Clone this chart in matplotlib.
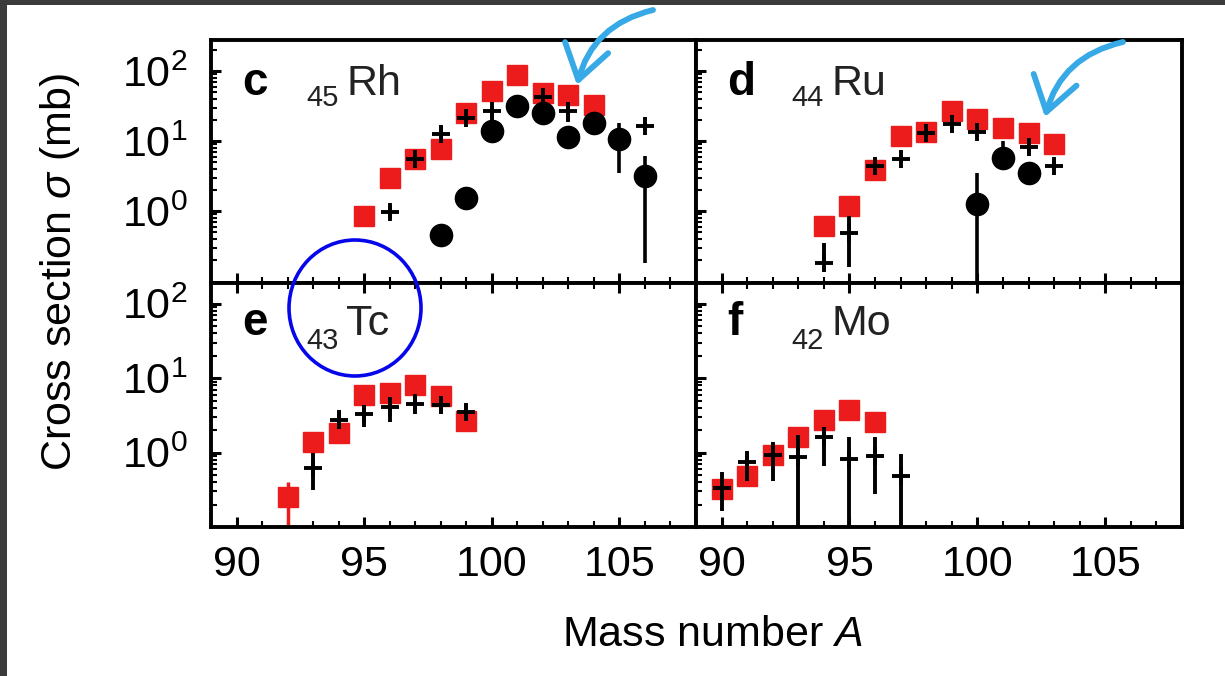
import numpy as np
import matplotlib
matplotlib.use("Agg")
import matplotlib.pyplot as plt
from matplotlib.ticker import MultipleLocator, FixedLocator, LogLocator, NullFormatter
from matplotlib.patches import Ellipse, Rectangle, FancyArrowPatch, ArrowStyle

plt.rcParams['font.family'] = ['Liberation Sans', 'DejaVu Sans']
plt.rcParams['mathtext.fontset'] = 'custom'
plt.rcParams['mathtext.rm'] = 'Liberation Sans'
plt.rcParams['mathtext.it'] = 'Liberation Sans:italic'
plt.rcParams['mathtext.bf'] = 'Liberation Sans:bold'

# ---- 45Rh (panel c) ----
rh_sq_A = [95, 96, 97, 98, 99, 100, 101, 102, 103, 104]
rh_sq = [0.85, 3.0, 5.5, 7.6, 25, 52, 87, 49, 45, 33]
rh_sq_lo = [0.7, 3.0, 5.5, 7.6, 25, 52, 87, 49, 45, 33]
rh_sq_hi = [0.85, 3.0, 5.5, 7.6, 25, 52, 87, 49, 45, 33]
rh_cr_A = [96, 97, 98, 99, 100, 102, 103, 106]
rh_cr = [0.97, 5.5, 12.5, 21.6, 27, 42, 27, 16.4]
rh_cr_lo = [0.8, 4.8, 10, 19, 19, 36, 19, 14.5]
rh_cr_hi = [1.2, 6.3, 16.4, 25, 31.6, 50, 33, 18.5]
rh_ci_A = [98, 99, 100, 101, 102, 103, 104, 105, 106]
rh_ci = [0.46, 1.55, 13.9, 32, 25, 11.6, 18.3, 10.6, 3.16]
rh_ci_lo = [0.46, 1.55, 13.9, 32, 25, 11.6, 18.3, 3.5, 0.18]
rh_ci_hi = [0.46, 1.55, 13.9, 32, 25, 11.6, 18.3, 18.3, 6.1]

# ---- 44Ru (panel d) ----
ru_sq_A = [94, 95, 96, 97, 98, 99, 100, 101, 102, 103]
ru_sq = [0.61, 1.18, 3.9, 11.8, 13.5, 27, 20.4, 15.5, 12.9, 9.0]
ru_sq_lo = ru_sq
ru_sq_hi = ru_sq
ru_cr_A = [94, 95, 96, 97, 98, 99, 100, 102, 103]
ru_cr = [0.18, 0.48, 4.4, 5.5, 12.9, 17.3, 13.5, 8.1, 4.4]
ru_cr_lo = [0.17, 0.16, 3.6, 4.8, 11.5, 15, 11.5, 6.5, 3.8]
ru_cr_hi = [0.35, 0.85, 5.2, 6.3, 14.5, 20, 16, 10.6, 5.2]
ru_ci_A = [100, 101, 102]
ru_ci = [1.25, 5.8, 3.5]
ru_ci_lo = [0.01, 5.8, 3.5]
ru_ci_hi = [3.5, 10, 3.5]

# ---- 43Tc (panel e) ----
tc_sq_A = [92, 93, 94, 95, 96, 97, 98, 99]
tc_sq = [0.25, 1.38, 1.82, 5.9, 6.3, 8.0, 5.7, 2.65]
tc_sq_lo = [0.01, 1.38, 1.82, 5.9, 6.3, 8.0, 5.7, 2.65]
tc_sq_hi = [0.4, 1.38, 1.82, 5.9, 6.3, 8.0, 5.7, 2.65]
tc_cr_A = [93, 94, 95, 96, 97, 98, 99]
tc_cr = [0.63, 2.7, 3.3, 4.1, 4.5, 4.3, 3.5]
tc_cr_lo = [0.31, 2.2, 2.2, 2.6, 3.3, 3.3, 2.85]
tc_cr_hi = [1.0, 3.7, 4.3, 5.6, 6.2, 5.0, 4.5]

# ---- 42Mo (panel f) ----
mo_sq_A = [90, 91, 92, 93, 94, 95, 96]
mo_sq = [0.32, 0.49, 0.93, 1.6, 2.7, 3.7, 2.6]
mo_sq_lo = mo_sq
mo_sq_hi = mo_sq
mo_cr_A = [90, 91, 92, 93, 94, 95, 96, 97]
mo_cr = [0.33, 0.74, 0.93, 0.86, 1.6, 0.82, 0.91, 0.49]
mo_cr_lo = [0.165, 0.42, 0.42, 0.01, 0.67, 0.01, 0.28, 0.01]
mo_cr_hi = [0.54, 1.06, 1.38, 1.7, 2.2, 1.6, 1.6, 0.96]

panel_letters = ['c', 'd', 'e', 'f']
panel_Z = ['45', '44', '43', '42']
panel_elem = ['Rh', 'Ru', 'Tc', 'Mo']

RED = '#ec1c1c'
BLUE_ARROW = '#36a9e6'


def yerr(v, lo, hi):
    v = np.asarray(v, float)
    return [v - np.asarray(lo, float), np.asarray(hi, float) - v]


def squares(ax, A, v, lo, hi):
    ax.errorbar(A, v, yerr=yerr(v, lo, hi), fmt='s', ms=14, color=RED,
                mec=RED, ecolor=RED, elinewidth=2.5, capsize=0, zorder=2)


def circles(ax, A, v, lo, hi):
    ax.errorbar(A, v, yerr=yerr(v, lo, hi), fmt='o', ms=16, color='black',
                ecolor='black', elinewidth=2.6, capsize=0, zorder=3)


def crosses(ax, A, v, lo, hi):
    ax.errorbar(A, v, yerr=yerr(v, lo, hi), fmt='+', ms=13, mew=2.8,
                color='black', ecolor='black', elinewidth=2.8, capsize=0,
                zorder=4)


fig = plt.figure(figsize=(12.25, 6.76), dpi=100)

W, H = 1225, 676
col_x = [211 / W, 696 / W]
col_w = [485 / W, 486 / W]
row_y = [1 - 283 / H, 1 - 527 / H]
row_h = [243 / H, 244 / H]
row_ylim = [(0.094, 277), (0.1, 190)]

axes = []
for i in range(4):
    r, c = divmod(i, 2)
    ax = fig.add_axes([col_x[c], row_y[r], col_w[c], row_h[r]])
    ax.set_yscale('log')
    ax.set_xlim(89, 108)
    ax.set_ylim(*row_ylim[r])
    ax.xaxis.set_major_locator(MultipleLocator(5))
    ax.xaxis.set_minor_locator(MultipleLocator(1))
    ax.yaxis.set_major_locator(FixedLocator([1, 10, 100]))
    ax.yaxis.set_minor_locator(LogLocator(base=10, subs=np.arange(2, 10), numticks=20))
    ax.yaxis.set_minor_formatter(NullFormatter())
    ax.tick_params(which='both', direction='in', top=(r == 1), right=False,
                   labelsize=31, labelbottom=(r == 1), labelleft=(c == 0))
    ax.tick_params(which='major', length=7, width=2.2)
    ax.tick_params(which='minor', length=4, width=1.5)
    ax.tick_params(axis='x', pad=13)
    ax.tick_params(axis='y', pad=17)
    for s in ax.spines.values():
        s.set_linewidth(2.8)
    axes.append(ax)

ax_c, ax_d, ax_e, ax_f = axes

squares(ax_c, rh_sq_A, rh_sq, rh_sq_lo, rh_sq_hi)
circles(ax_c, rh_ci_A, rh_ci, rh_ci_lo, rh_ci_hi)
crosses(ax_c, rh_cr_A, rh_cr, rh_cr_lo, rh_cr_hi)

squares(ax_d, ru_sq_A, ru_sq, ru_sq_lo, ru_sq_hi)
circles(ax_d, ru_ci_A, ru_ci, ru_ci_lo, ru_ci_hi)
crosses(ax_d, ru_cr_A, ru_cr, ru_cr_lo, ru_cr_hi)

squares(ax_e, tc_sq_A, tc_sq, tc_sq_lo, tc_sq_hi)
crosses(ax_e, tc_cr_A, tc_cr, tc_cr_lo, tc_cr_hi)

squares(ax_f, mo_sq_A, mo_sq, mo_sq_lo, mo_sq_hi)
crosses(ax_f, mo_cr_A, mo_cr, mo_cr_lo, mo_cr_hi)

# panel tags: bold letter, atomic number as left subscript, element symbol
for i, ax in enumerate(axes):
    r = i // 2
    y_main = 0.775 if r == 0 else 0.787
    y_sub = 0.728 if r == 0 else 0.730
    ax.text(0.065, y_main, panel_letters[i], transform=ax.transAxes,
            fontsize=33, fontweight='bold', va='baseline', ha='left')
    ax.text(0.197, y_sub, panel_Z[i], transform=ax.transAxes,
            fontsize=21, color='#222222', va='baseline', ha='left')
    ax.text(0.279, y_main, panel_elem[i], transform=ax.transAxes,
            fontsize=31, color='#222222', va='baseline', ha='left')

fig.text(60 / W, 1 - 272 / H, r'Cross section $\sigma$ (mb)', rotation=90,
         fontsize=31, ha='center', va='center')
fig.text(712 / W, 1 - 635 / H, r'Mass number $A$', fontsize=31,
         ha='center', va='center')

# highlight circle around the Tc tag
fig.add_artist(Ellipse((355 / W, 1 - 308 / H), 132 / W, 136 / H,
                       transform=fig.transFigure, fill=False,
                       edgecolor='#0606ea', lw=2.6, zorder=10))

# curved pointers
head = ArrowStyle('->', head_length=1.2, head_width=0.8)
for start, tip in [((653, 10), (577, 85)), ((1123, 42), (1045, 117))]:
    arr = FancyArrowPatch((start[0] / W, 1 - start[1] / H),
                          (tip[0] / W, 1 - tip[1] / H),
                          transform=fig.transFigure,
                          connectionstyle='arc3,rad=0.3',
                          arrowstyle=head, mutation_scale=20,
                          color=BLUE_ARROW, lw=4.2, capstyle='round',
                          joinstyle='round', shrinkA=0, shrinkB=0, zorder=10)
    fig.add_artist(arr)

# dark frame strips on the top and left edges
fig.add_artist(Rectangle((0, 1 - 5 / H), 1, 5 / H, transform=fig.transFigure,
                         color='#3b3b3b', lw=0, zorder=20))
fig.add_artist(Rectangle((0, 0), 7 / W, 1, transform=fig.transFigure,
                         color='#3b3b3b', lw=0, zorder=20))

fig.savefig('out.png', dpi=100)
